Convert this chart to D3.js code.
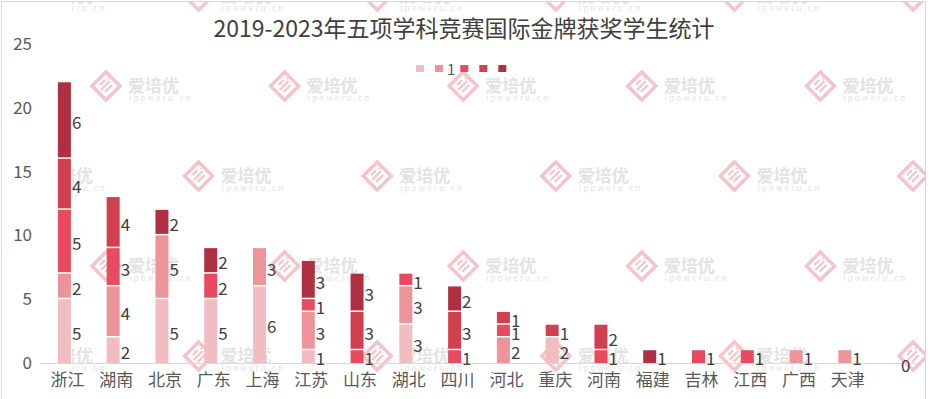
<!DOCTYPE html>
<html><head><meta charset="utf-8">
<script src="https://cdn.jsdelivr.net/npm/d3@7"></script>
<style>
html,body{margin:0;padding:0;background:#fff;}
svg{display:block;font-family:"Noto Sans CJK SC","Microsoft YaHei",sans-serif;}
</style></head>
<body>
<svg id="chart" width="931" height="399"></svg>
<script>
const title = "2019-2023年五项学科竞赛国际金牌获奖学生统计";
const categories = ["浙江","湖南","北京","广东","上海","江苏","山东","湖北","四川","河北","重庆","河南","福建","吉林","江西","广西","天津",""];
const seriesNames = ["", "1", "", "", ""];
const s1 = [5,2,5,5,6,1,0,3,0,0,2,0,0,0,0,0,0,0];
const s2 = [2,4,5,0,3,3,0,3,0,2,0,0,0,0,0,1,1,0];
const s3 = [5,3,0,2,0,1,1,1,1,1,0,1,0,1,1,0,0,0];
const s4 = [4,4,0,0,0,0,3,0,3,1,1,2,0,0,0,0,0,0];
const s5 = [6,0,2,2,0,3,3,0,2,0,0,0,1,0,0,0,0,0];
const yTicks = [0,5,10,15,20,25];
const colors = ["#f2bdc1","#ec9499","#e84a5f","#d0404f","#ae3042"];

(function(){
const series = [s1,s2,s3,s4,s5];
const svg = d3.select("#chart");
const pLeft = 40, pRight = 918, pTop = 44, pBottom = 363;

const x = d3.scaleBand().domain(categories.map((c,i)=>i)).range([pLeft,pRight]).paddingInner(0).paddingOuter(0);
const y = d3.scaleLinear().domain([0,25]).range([pBottom, pTop]);
const barW = 13;

// watermarks
const defs = svg.append("defs");
defs.append("clipPath").attr("id","wmclip").append("rect").attr("x",72).attr("y",1).attr("width",853).attr("height",397);
const wm = svg.append("g").attr("clip-path","url(#wmclip)");
const rowsY = [-4, 86, 176, 266, 356];
rowsY.forEach((ry, r) => {
  const x0 = r % 2 === 0 ? 20 : 106;
  for (let k = 0; k < 6; k++) {
    const cx = x0 + k * 178.6;
    if (cx > 940) continue;
    const g = wm.append("g").attr("transform", `translate(${cx},${ry})`);
    g.append("path").attr("d","M0,-14 L14,0 L0,14 L-14,0 Z")
      .attr("fill","none").attr("stroke","#f5c4c9").attr("stroke-width",3.5);
    g.append("path").attr("d","M-6,-1 L-1,-6 M-5,4 L4,-5 M-1,6 L6,-1 M2,-8 L3,-7")
      .attr("fill","none").attr("stroke","#f5c4c9").attr("stroke-width",2.2);
    g.append("text").attr("x",22).attr("y",-2).attr("dominant-baseline","central")
      .attr("font-size",17).attr("font-weight","bold").attr("fill","#e3e3e3").text("爱培优");
    g.append("text").attr("x",23).attr("y",11).attr("dominant-baseline","central")
      .attr("font-size",8).attr("letter-spacing",2.2).attr("fill","#e3e3e3").text("ipoweru.cn");
  }
});

// border
svg.append("rect").attr("x",1.5).attr("y",1.5).attr("width",924).attr("height",400)
  .attr("fill","none").attr("stroke","#d9d9d9").attr("stroke-width",1);

// title
svg.append("text").attr("x",464).attr("y",27).attr("text-anchor","middle").attr("dominant-baseline","central")
  .attr("font-size",23).attr("fill","#404040").text(title);

// y axis labels
const yAxis = d3.axisLeft(y).tickValues(yTicks).tickSize(0).tickPadding(0);
const ya = svg.append("g").attr("transform",`translate(32,0)`).call(yAxis);
ya.select(".domain").remove();
ya.selectAll("text").attr("font-size",17).attr("fill","#595959").attr("font-family","'Noto Sans CJK SC',sans-serif");

// baseline
svg.append("line").attr("x1",pLeft).attr("x2",pRight).attr("y1",pBottom+0.5).attr("y2",pBottom+0.5)
  .attr("stroke","#d9d9d9").attr("stroke-width",1.2);

// x axis labels
const xAxis = d3.axisBottom(x).tickFormat(i=>categories[i]).tickSize(0).tickPadding(0);
const xa = svg.append("g").attr("transform",`translate(3,${pBottom+11})`).call(xAxis);
xa.select(".domain").remove();
xa.selectAll("text").attr("font-size",17).attr("fill","#595959").attr("font-family","'Noto Sans CJK SC',sans-serif");

// bars
const stackData = categories.map((c,i)=>{ const o={i}; series.forEach((s,j)=>o["s"+j]=s[i]); return o; });
const stack = d3.stack().keys(series.map((s,j)=>"s"+j))(stackData);
const barsG = svg.append("g");
const labelsG = svg.append("g");
stack.forEach((layer, j) => {
  layer.forEach(d => {
    const i = d.data.i;
    const v = d[1]-d[0];
    const cx = x(i) + x.bandwidth()/2;
    if (v > 0) {
      const y0 = y(d[0]), y1 = y(d[1]);
      const gap = d[0] > 0 ? 1.5 : 0;
      barsG.append("rect").attr("x", cx - barW/2).attr("y", y1).attr("width", barW)
        .attr("height", Math.max(0, y0 - y1 - gap)).attr("fill", colors[j]);
    }
    const total = series.reduce((a,s)=>a+s[i],0);
    if (v > 0 || (total === 0 && j === 0)) {
      labelsG.append("text").attr("x", cx + barW/2 + 1).attr("y", y((d[0]+d[1])/2) + 1)
        .attr("dominant-baseline","central").attr("font-size",17).attr("fill","#404040").text(v);
    }
  });
});

// legend
const lg = svg.append("g");
let lx = 416;
seriesNames.forEach((n,j)=>{
  lg.append("rect").attr("x",lx).attr("y",65).attr("width",8).attr("height",7).attr("fill",colors[j]);
  lx += 8;
  if (n) {
    const t = lg.append("text").attr("x",lx+4).attr("y",68).attr("dominant-baseline","central")
      .attr("font-size",15).attr("fill","#595959").text(n);
    lx += 4 + t.node().getComputedTextLength() + 5;
  } else {
    lx += 11;
  }
});
})();
</script>
</body></html>
